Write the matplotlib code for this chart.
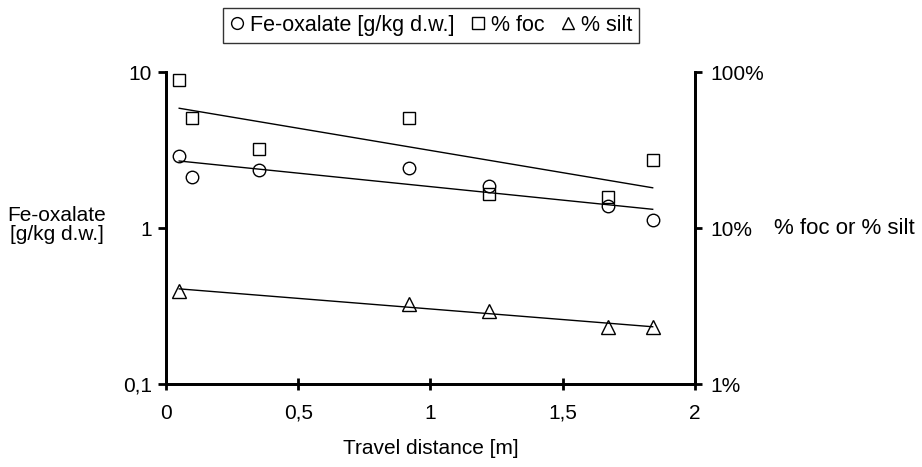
import numpy as np
import matplotlib.pyplot as plt
from matplotlib.lines import Line2D

plt.rcParams['font.family'] = ['Liberation Sans', 'DejaVu Sans']
plt.rcParams['font.size'] = 15

# travel distance [m]
dist_fe = [0.05, 0.10, 0.35, 0.92, 1.22, 1.67, 1.84]
fe_oxalate = [2.88, 2.12, 2.35, 2.41, 1.87, 1.38, 1.13]   # g/kg d.w.

dist_foc = [0.05, 0.10, 0.35, 0.92, 1.22, 1.67, 1.84]
foc = [88.8, 50.9, 32.2, 50.9, 16.4, 15.9, 27.3]          # %

dist_silt = [0.05, 0.92, 1.22, 1.67, 1.84]
silt = [3.95, 3.24, 2.94, 2.33, 2.33]                     # %

xticks = [0, 0.5, 1, 1.5, 2]
xticklabels = ['0', '0,5', '1', '1,5', '2']
left_ticks = [0.1, 1, 10]
left_labels = ['0,1', '1', '10']
right_ticks = [1, 10, 100]
right_labels = ['1%', '10%', '100%']


def exp_trend(x, y):
    # exponential trend line (least squares in log space), like Excel
    k, b = np.polyfit(x, np.log10(y), 1)
    xx = np.array([min(x), max(x)])
    return xx, 10 ** (k * xx + b)


fig = plt.figure(figsize=(9.22, 4.67), dpi=100)
ax = fig.add_axes([0.180, 0.1777, 0.5738, 0.6681])
ax2 = ax.twinx()

mk = dict(ls='none', mfc='none', mec='black', mew=1.0)

ax.plot(dist_fe, fe_oxalate, marker='o', ms=9, **mk)
ax.plot(*exp_trend(dist_fe, fe_oxalate), color='black', lw=1.0)

ax2.plot(dist_foc, foc, marker='s', ms=9, **mk)
ax2.plot(*exp_trend(dist_foc, foc), color='black', lw=1.0)
ax2.plot(dist_silt, silt, marker='^', ms=9.5, **mk)
ax2.plot(*exp_trend(dist_silt, silt), color='black', lw=1.0)

for a in (ax, ax2):
    a.set_yscale('log')
    a.spines['top'].set_visible(False)
    for s in a.spines.values():
        s.set_linewidth(2)
    a.minorticks_off()

ax.set_xlim(0, 2)
ax.set_ylim(0.1, 10)
ax2.set_ylim(1, 100)

ax.set_xticks(xticks)
ax.set_xticklabels(xticklabels)
ax.set_yticks(left_ticks)
ax.set_yticklabels(left_labels)
ax2.set_yticks(right_ticks)
ax2.set_yticklabels(right_labels)
ax.yaxis.set_minor_locator(plt.NullLocator())
ax2.yaxis.set_minor_locator(plt.NullLocator())

ax.tick_params(axis='x', direction='inout', length=8.5, width=2, pad=10)
ax.tick_params(axis='y', direction='out', length=6, width=2, pad=4)
ax2.tick_params(axis='y', direction='out', length=5, width=2, pad=6)

ax.set_xlabel('Travel distance [m]', labelpad=12)
ax.set_ylabel('Fe-oxalate\n[g/kg d.w.]', rotation=0, ha='center', va='center',
              linespacing=1.05)
ax.yaxis.set_label_coords(-0.207, 0.51)
ax2.set_ylabel('% foc or % silt', rotation=0, ha='left', va='center', fontsize=16)
ax2.yaxis.set_label_coords(1.150, 0.5)

handles = [
    Line2D([], [], marker='o', ms=8.5, **mk),
    Line2D([], [], marker='s', ms=8.5, **mk),
    Line2D([], [], marker='^', ms=9, **mk),
]
labels = ['Fe-oxalate [g/kg d.w.]', '% foc', '% silt']
leg = fig.legend(handles, labels, loc='center', bbox_to_anchor=(0.4675, 0.946),
                 ncol=3, frameon=True, fancybox=False, edgecolor='black',
                 fontsize=15.5, handlelength=0.7, handletextpad=0.25,
                 columnspacing=0.75, borderpad=0.32, borderaxespad=0)
leg.get_frame().set_linewidth(1.0)

fig.savefig('out.png', dpi=100)
